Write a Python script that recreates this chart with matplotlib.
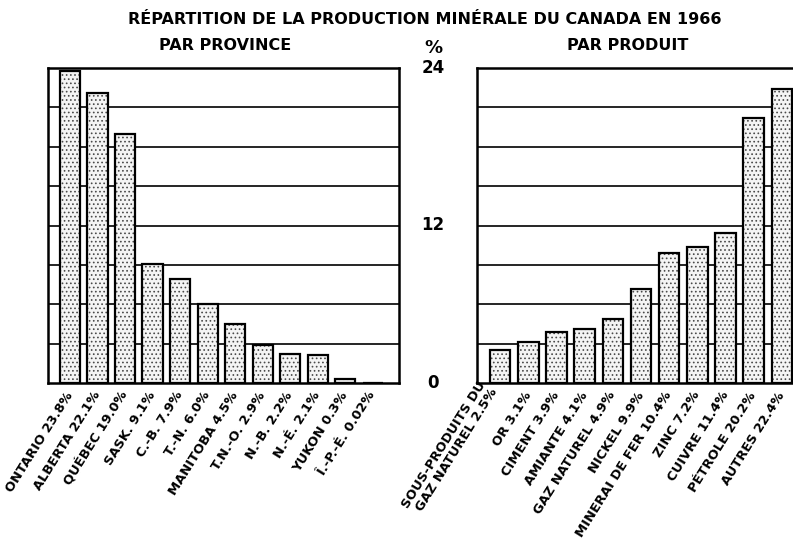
import matplotlib
matplotlib.use("Agg")
import matplotlib.pyplot as plt
from matplotlib.transforms import blended_transform_factory

# ---- data ----
provinces = ["ONTARIO 23.8%", "ALBERTA 22.1%", "QUÉBEC 19.0%", "SASK. 9.1%", "C.-B. 7.9%",
             "T.-N. 6.0%", "MANITOBA 4.5%", "T.N.-O. 2.9%", "N.-B. 2.2%", "N.-É. 2.1%",
             "YUKON 0.3%", "Î.-P.-É. 0.02%"]
province_values = [23.8, 22.1, 19.0, 9.1, 7.9, 6.0, 4.5, 2.9, 2.2, 2.1, 0.3, 0.02]

products = ["SOUS-PRODUITS DU\nGAZ NATUREL 2.5%", "OR 3.1%", "CIMENT 3.9%", "AMIANTE 4.1%",
            "GAZ NATUREL 4.9%", "NICKEL 9.9%", "MINERAI DE FER 10.4%", "ZINC 7.2%",
            "CUIVRE 11.4%", "PÉTROLE 20.2%", "AUTRES 22.4%"]
product_values = [2.5, 3.1, 3.9, 4.1, 4.9, 7.2, 9.9, 10.4, 11.4, 20.2, 22.4]

y_ticks = [0, 12, 24]
grid_levels = [3, 6, 9, 12, 15, 18, 21]

title = "RÉPARTITION DE LA PRODUCTION MINÉRALE DU CANADA EN 1966"
sub_left = "PAR PROVINCE"
sub_right = "PAR PRODUIT"

plt.rcParams['font.family'] = ['DejaVu Sans']
plt.rcParams['hatch.linewidth'] = 0.7

W, H = 793, 542
fig = plt.figure(figsize=(W / 100, H / 100), dpi=100)
fig.patch.set_facecolor("white")

def frac(x0, y0, x1, y1):
    return [x0 / W, 1 - y1 / H, (x1 - x0) / W, (y1 - y0) / H]

axL = fig.add_axes(frac(48, 68, 399, 383))
axR = fig.add_axes(frac(477, 68, 805, 383))

def draw(ax, labels, values, xlim, two_line_first=False):
    x = list(range(len(values)))
    for lv in grid_levels:
        ax.axhline(lv, color="black", lw=1.2, zorder=1)
    ax.bar(x, values, width=0.73, color="#f4f4f4", edgecolor="#4a4a4a",
           hatch="....", linewidth=0, zorder=2)
    ax.bar(x, values, width=0.73, fill=False, edgecolor="black",
           linewidth=1.6, zorder=3)
    ax.set_xlim(*xlim)
    ax.set_ylim(0, 24)
    ax.set_yticks([])
    ax.set_xticks(x)
    ax.set_xticklabels(labels, rotation=58, ha="right", va="center",
                       rotation_mode="anchor", fontsize=9.4, fontweight="bold")
    ax.tick_params(axis="x", length=0, pad=7)
    if two_line_first:
        lab = ax.get_xticklabels()[0]
        lab.set_va("bottom")
        lab.set_linespacing(1.05)
    for s in ax.spines.values():
        s.set_linewidth(1.8)
        s.set_color("black")

draw(axL, provinces, province_values, (-0.8, 11.96))
draw(axR, products, product_values, (-0.82, 10.82), two_line_first=True)

# central scale labels
tr = blended_transform_factory(fig.transFigure, axL.transData)
for t in y_ticks:
    fig.text(433 / W, t, str(t), transform=tr, ha="center", va="center",
             fontsize=12, fontweight="bold")
fig.text(433 / W, 1 - 48 / H, "%", ha="center", va="center", fontsize=13, fontweight="bold")

fig.text(425 / W, 1 - 19 / H, title, ha="center", va="center", fontsize=11.5, fontweight="bold")
fig.text(225 / W, 1 - 46 / H, sub_left, ha="center", va="center", fontsize=11.5, fontweight="bold")
fig.text(628 / W, 1 - 46 / H, sub_right, ha="center", va="center", fontsize=11.5, fontweight="bold")

fig.savefig("out.png", dpi=100, facecolor="white")
